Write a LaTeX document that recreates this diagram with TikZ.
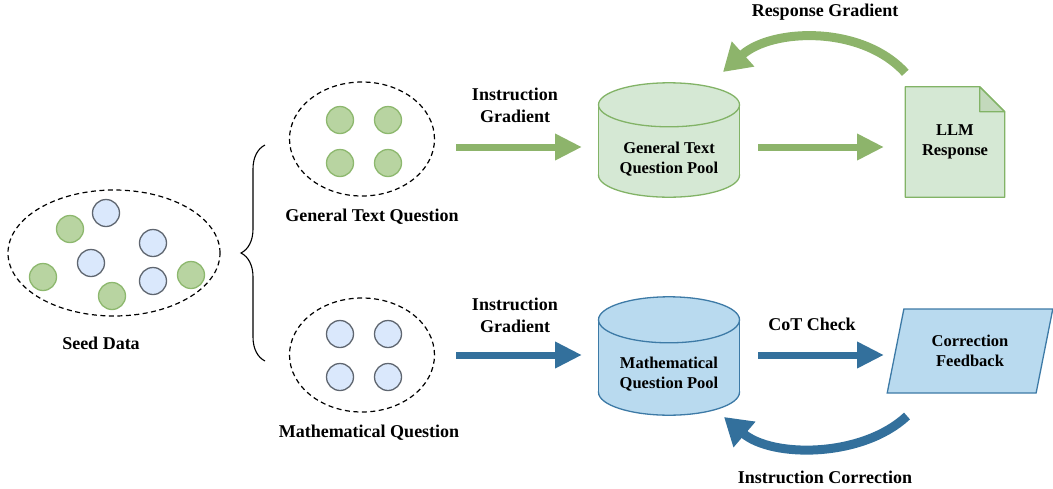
\documentclass[tikz,border=0pt]{standalone}
\usepackage{fontspec}
\setmainfont{Liberation Serif}
\usepackage{tikz}
\usetikzlibrary{shapes.geometric,arrows.meta,decorations.pathreplacing,backgrounds}
\definecolor{leaf}{HTML}{D5E8D4}
\definecolor{leafline}{HTML}{82B366}
\definecolor{leafdot}{HTML}{B8D4A1}
\definecolor{leafdotline}{HTML}{8DB86E}
\definecolor{leaffold}{HTML}{C3D9BC}
\definecolor{leafarrow}{HTML}{8DB46B}
\definecolor{sky}{HTML}{B9DAEF}
\definecolor{skyline}{HTML}{3D7AA6}
\definecolor{skydot}{HTML}{DAE8FC}
\definecolor{skydotline}{HTML}{5F6670}
\definecolor{skyarrow}{HTML}{33709C}
\tikzset{
    big-text/.style = {font=\fontsize{18}{22}\selectfont\bfseries, align=center, inner sep=0pt},
    box-text/.style = {font=\fontsize{16.5}{20}\selectfont\bfseries, align=center},
    seed-dot/.style = {circle, minimum size=27pt, inner sep=0pt, line width=1.3pt},
    green-dot/.style = {seed-dot, draw=leafdotline, fill=leafdot},
    blue-dot/.style = {seed-dot, draw=skydotline, fill=skydot},
    group-ring/.style = {ellipse, draw, line width=1.2pt, dash pattern=on 5pt off 3.5pt, inner sep=0pt},
    pool/.style = {rectangle, inner sep=0pt, minimum width=141pt},
    pool-line/.style = {line width=1.3pt},
    flow/.style = {line width=7pt, -{Triangle[length=27pt,width=25pt]}},
    loop-flow/.style = {line width=9pt, -{Triangle[length=27pt,width=32pt]}},
}

\begin{document}
\begin{tikzpicture}[x=1pt, y=-1pt]
\useasboundingbox (0,0) rectangle (1053,488);

% seed data
\node[group-ring, minimum width=212pt, minimum height=126pt] (seed) at (114,253) {};
\foreach \x/\y/\kind [count=\i] in {106/213/blue, 70/229/green, 153/243/blue, 91/263/blue,
    43/277/green, 191/275/green, 153/281/blue, 112/296/green}
    \node[\kind-dot] (s\i) at (\x,\y) {};
\node[big-text] (seed-label) at (101,343) {Seed Data};

% split brace
\draw[line width=1.1pt, decorate, decoration={brace, amplitude=24pt, aspect=0.5}] (265,361) -- (265,145);

% question groups
\node[group-ring, minimum width=145pt, minimum height=114pt] (gring) at (362,139) {};
\node[group-ring, minimum width=145pt, minimum height=114pt] (mring) at (362,355) {};
\foreach \x/\y [count=\i] in {340/120, 388/120, 340/163, 388/163}
    \node[green-dot] (g\i) at (\x,\y) {};
\foreach \x/\y [count=\i] in {340/334, 388/334, 340/377, 388/377}
    \node[blue-dot] (m\i) at (\x,\y) {};
\node[big-text] (gring-label) at (372,217) {General Text Question};
\node[big-text] (mring-label) at (369,433) {Mathematical Question};

% pools
\node[pool, minimum height=114pt] (gpool) at (669,140) {};
\node[pool, minimum height=118pt] (mpool) at (669,356) {};
\node[box-text] (gpool-text) at ([yshift=-19pt]gpool.center) {General Text\\Question Pool};
\node[box-text] (mpool-text) at ([yshift=-18pt]mpool.center) {Mathematical\\Question Pool};
\begin{scope}[on background layer]
\filldraw[pool-line, draw=leafline, fill=leaf] ([yshift=22pt]gpool.south) ellipse [x radius=70.5pt, y radius=22pt];
\fill[leaf] ([yshift=-22pt]gpool.north west) rectangle ([yshift=22pt]gpool.south east);
\draw[pool-line, leafline] ([yshift=-22pt]gpool.north west) -- ([yshift=22pt]gpool.south west)
    ([yshift=-22pt]gpool.north east) -- ([yshift=22pt]gpool.south east);
\filldraw[pool-line, draw=leafline, fill=leaf] ([yshift=-22pt]gpool.north) ellipse [x radius=70.5pt, y radius=22pt];

\filldraw[pool-line, draw=skyline, fill=sky] ([yshift=23pt]mpool.south) ellipse [x radius=70.5pt, y radius=23pt];
\fill[sky] ([yshift=-23pt]mpool.north west) rectangle ([yshift=23pt]mpool.south east);
\draw[pool-line, skyline] ([yshift=-23pt]mpool.north west) -- ([yshift=23pt]mpool.south west)
    ([yshift=-23pt]mpool.north east) -- ([yshift=23pt]mpool.south east);
\filldraw[pool-line, draw=skyline, fill=sky] ([yshift=-23pt]mpool.north) ellipse [x radius=70.5pt, y radius=23pt];
\end{scope}

% llm response
\node[box-text, minimum width=99pt, minimum height=110pt] (llm) at (955,142) {LLM\\Response};
\begin{scope}[on background layer]
\draw[line width=1.3pt, draw=leafline, fill=leaf, line join=round]
    (llm.north west) -- ([xshift=-25pt]llm.north east) -- ([yshift=-25pt]llm.north east)
    -- (llm.south east) -- (llm.south west) -- cycle;
\draw[line width=1.3pt, draw=leafline, fill=leaffold, line join=round]
    ([xshift=-25pt]llm.north east) -- ([xshift=-25pt,yshift=-25pt]llm.north east)
    -- ([yshift=-25pt]llm.north east) -- cycle;
\end{scope}

% correction feedback
\node[box-text, trapezium, trapezium stretches=true, trapezium left angle=73, trapezium right angle=107,
    minimum width=166pt, minimum height=84pt, inner sep=0pt, line width=1.3pt,
    draw=skyline, fill=sky] (fix) at (970,351) {Correction\\Feedback};

% straight flows
\draw[flow, leafarrow] ([xshift=94pt,yshift=-8pt]gring.center) -- ([xshift=-87pt,yshift=-7pt]gpool.center);
\draw[flow, leafarrow] ([xshift=89pt,yshift=-7pt]gpool.center) -- ([xshift=-71pt,yshift=-5pt]llm.center);
\draw[flow, skyarrow] ([xshift=94pt]mring.center) -- ([xshift=-87pt,yshift=1pt]mpool.center);
\draw[flow, skyarrow] ([xshift=89pt,yshift=1pt]mpool.center) -- ([xshift=-86pt,yshift=-4pt]fix.center);

\node[big-text] (ig-top) at (515,105) {Instruction\\Gradient};
\node[big-text] (ig-bottom) at (515,315) {Instruction\\Gradient};
\node[big-text] (cot) at (812,324) {CoT Check};

% feedback loops
\draw[loop-flow, leafarrow] ([yshift=14pt]llm.north west) .. controls (862,25) and (772,28) .. ([xshift=54pt,yshift=68pt]gpool.center);
\draw[loop-flow, skyarrow] ([xshift=-63pt,yshift=-65pt]fix.center) .. controls (862,458) and (772,458) .. ([xshift=55pt,yshift=-61pt]mpool.center);
\node[big-text] (rg) at (825,12) {Response Gradient};
\node[big-text] (ic) at (825,477) {Instruction Correction};
\end{tikzpicture}
\end{document}
